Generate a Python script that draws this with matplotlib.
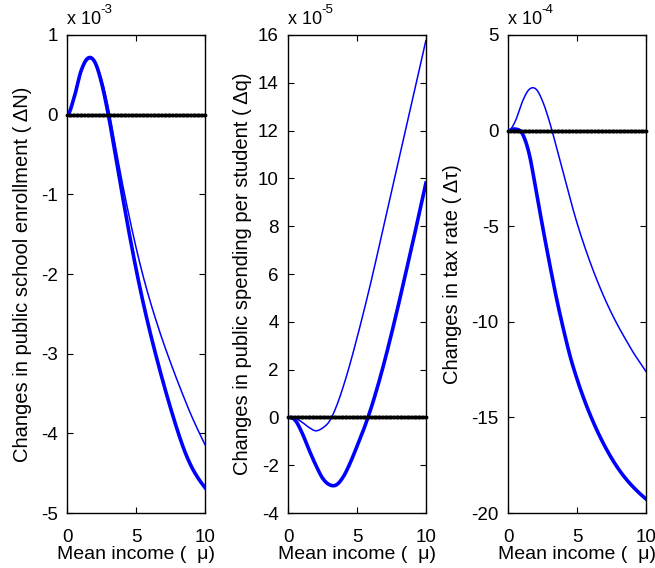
import numpy as np
import matplotlib
matplotlib.use("Agg")
import matplotlib.pyplot as plt

plt.rcParams['font.family'] = ['Liberation Sans', 'DejaVu Sans']
plt.rcParams['axes.unicode_minus'] = False

# Mean income grid
income = [0, 0.5, 1.0, 1.5, 2.0, 2.5, 3.0, 3.5, 4.0, 4.5, 5.0,
          5.5, 6.0, 6.5, 7.0, 7.5, 8.0, 8.5, 9.0, 9.5, 10.0]

# Panel 1: changes in enrollment (x 1e-3)
enroll_thick = [0, 0.22, 0.55, 0.71, 0.66, 0.39, -0.02, -0.51, -1.01, -1.49, -1.94,
                -2.35, -2.72, -3.06, -3.38, -3.68, -3.96, -4.21, -4.41, -4.56, -4.68]
enroll_thin = [0, 0.21, 0.53, 0.69, 0.67, 0.44, 0.07, -0.40, -0.86, -1.28, -1.67,
               -2.02, -2.33, -2.61, -2.87, -3.11, -3.34, -3.56, -3.77, -3.96, -4.14]

# Panel 2: changes in spending per student (x 1e-5)
spend_thick = [0, -0.12, -0.65, -1.35, -2.0, -2.55, -2.82, -2.82, -2.48, -1.90, -1.20,
               -0.47, 0.36, 1.31, 2.36, 3.5, 4.7, 5.95, 7.2, 8.5, 9.8]
spend_thin = [0, -0.03, -0.2, -0.42, -0.56, -0.44, -0.15, 0.47, 1.30, 2.27, 3.34,
              4.47, 5.65, 6.9, 8.17, 9.44, 10.71, 11.97, 13.24, 14.5, 15.77]

# Panel 3: changes in tax rate (x 1e-4)
tax_thick = [0, 0.08, -0.15, -1.2, -3.1, -5.1, -7.0, -8.8, -10.4, -11.85, -13.03,
             -14.06, -14.97, -15.78, -16.5, -17.14, -17.7, -18.18, -18.59, -18.95, -19.27]
tax_thin = [0, 0.5, 1.5, 2.15, 2.17, 1.5, 0.42, -0.9, -2.27, -3.62, -4.87,
            -5.99, -7.01, -7.94, -8.79, -9.56, -10.26, -10.9, -11.52, -12.07, -12.6]

ylabels = ['Changes in public school enrollment ( \u0394N)',
           'Changes in public spending per student ( \u0394q)',
           'Changes in tax rate ( \u0394\u03c4)']
exponents = ['-3', '-5', '-4']
ylims = [(-5, 1), (-4, 16), (-20, 5)]
yticks = [list(range(-5, 2, 1)), list(range(-4, 17, 2)), list(range(-20, 6, 5))]
xticks = [0, 5, 10]
xlabel = 'Mean income (  \u03bc)'

thick_series = [enroll_thick, spend_thick, tax_thick]
thin_series = [enroll_thin, spend_thin, tax_thin]

fig = plt.figure(figsize=(6.55, 5.68), dpi=100)
lefts = [0.1028, 0.4402, 0.7763]
width = 0.2100
bottom = 0.0968
height = 0.8416
ylabel_x = [-0.256, -0.264, -0.339]

x_s = np.array(income)
xf = np.linspace(0, 10, 400)


def smooth(y):
    # Catmull-Rom interpolation through the read points (flat start)
    y = np.array(y, dtype=float)
    n = len(x_s)
    h = x_s[1] - x_s[0]
    out = np.empty_like(xf)
    for k, xv in enumerate(xf):
        j = min(int(xv / h), n - 2)
        t = (xv - x_s[j]) / h
        p0 = y[j - 1] if j > 0 else y[1]
        p1 = y[j]
        p2 = y[j + 1]
        p3 = y[j + 2] if j + 2 < n else 2 * y[j + 1] - y[j]
        out[k] = 0.5 * ((2 * p1) + (-p0 + p2) * t + (2 * p0 - 5 * p1 + 4 * p2 - p3) * t ** 2
                        + (-p0 + 3 * p1 - 3 * p2 + p3) * t ** 3)
    return out


for i in range(3):
    ax = fig.add_axes([lefts[i], bottom, width, height])
    ax.plot(xf, smooth(thin_series[i]), color='#0000ff', lw=1.1, zorder=3)
    ax.plot(xf, smooth(thick_series[i]), color='#0000ff', lw=2.6, zorder=4)
    xz = np.linspace(0, 10, 101)
    ax.plot(xz, np.zeros_like(xz), color='black', lw=2.0, marker='.', ms=3.5,
            zorder=5, clip_on=False)

    ax.set_xlim(0, 10)
    ax.set_ylim(*ylims[i])
    ax.set_xticks(xticks)
    ax.set_yticks(yticks[i])
    ax.tick_params(direction='in', top=True, right=True, labelsize=13.5,
                   length=4, width=0.8)
    ax.tick_params(axis='y', pad=7)
    ax.tick_params(axis='x', pad=11.5)
    for s in ax.spines.values():
        s.set_linewidth(1.0)
    ax.set_xlabel(xlabel, fontsize=14)
    ax.xaxis.set_label_coords(0.5, -0.07)
    ax.set_ylabel(ylabels[i], fontsize=14.5)
    ax.yaxis.set_label_coords(ylabel_x[i], 0.5)
    ax.text(0.0, 1.015, 'x 10', transform=ax.transAxes, fontsize=13,
            ha='left', va='bottom')
    ax.text(0.24, 1.04, exponents[i], transform=ax.transAxes, fontsize=9.5,
            ha='left', va='bottom')

fig.savefig('out.png', dpi=100)
